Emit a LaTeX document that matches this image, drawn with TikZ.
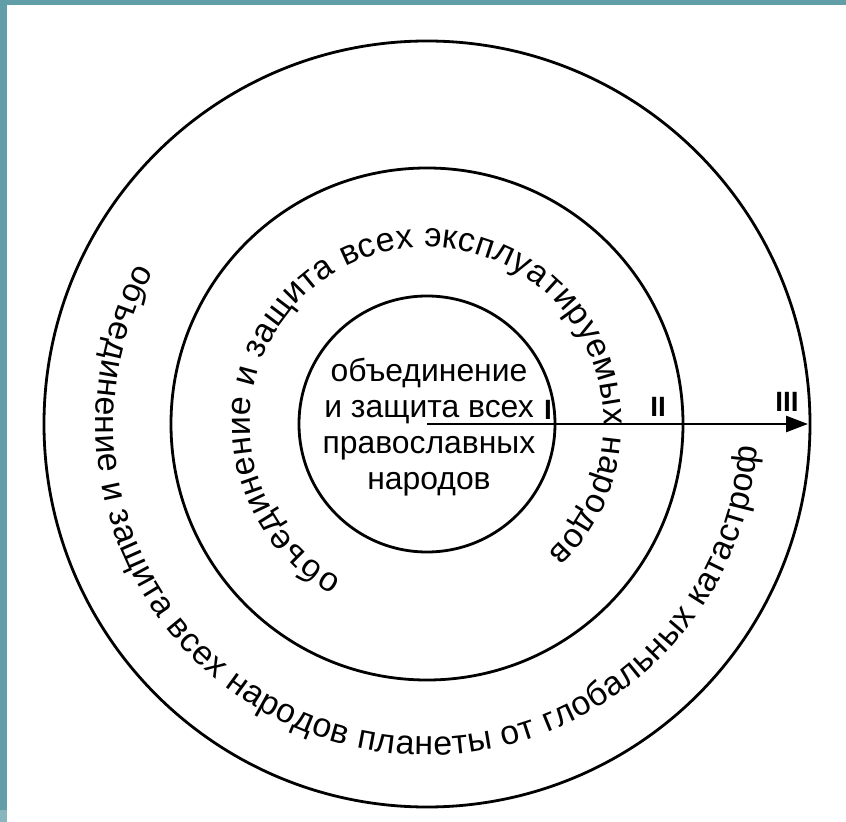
\documentclass[tikz,border=0pt]{standalone}
\usepackage{fontspec}
\setmainfont{Liberation Sans}
\usetikzlibrary{arrows.meta,decorations.text}
\definecolor{bandteal}{RGB}{98,158,168}
\newcommand{\ringfont}{\fontsize{34}{40}\selectfont}

\begin{document}
\begin{tikzpicture}[x=1bp,y=1bp,
  ring/.style={line width=2.8bp},
  core/.style={align=center,font=\fontsize{32}{36}\selectfont,inner sep=0pt},
  level/.style={font=\fontsize{28}{32}\selectfont\bfseries,inner sep=0pt},
  ringtext/.style={decorate,decoration={text along path,text align=fit to path,text={|\ringfont|#1}}}]
  \useasboundingbox (-427,-398) rectangle (419,424);
  \fill[white] (-427,-398) rectangle (419,424);
  \fill[bandteal] (-427,418.5) rectangle (419,424);
  \fill[bandteal] (-427,-398) rectangle (-419.5,424);
  \fill[bandteal!75!white] (-427,-398) rectangle (-419.5,-386);
  \coordinate (centre) at (0,0);
  \coordinate (tip) at (381,0);
  \draw[ring] (centre) circle[radius=128bp];
  \draw[ring] (centre) circle[radius=256bp];
  \draw[ring] (centre) circle[radius=383bp];
  \path[ringtext={объединение и защита всех эксплуатируемых народов}]
    (241:177bp) arc[start angle=241,end angle=-47,radius=177bp];
  \path[ringtext={объединение и защита всех народов планеты от глобальных катастроф}]
    (151:331bp) arc[start angle=151,end angle=356,radius=331bp];
  \node[core] (coretext) at (2,-3) {объединение\\и защита всех\\православных\\народов};
  \draw[line width=2.6bp,-{Triangle[length=22bp,width=16bp]}] (centre) -- (tip);
  \node[level] (lvlone) at (121,14) {I};
  \node[level] (lvltwo) at (231,17) {II};
  \node[level] (lvlthree) at (360,22) {III};
\end{tikzpicture}
\end{document}
